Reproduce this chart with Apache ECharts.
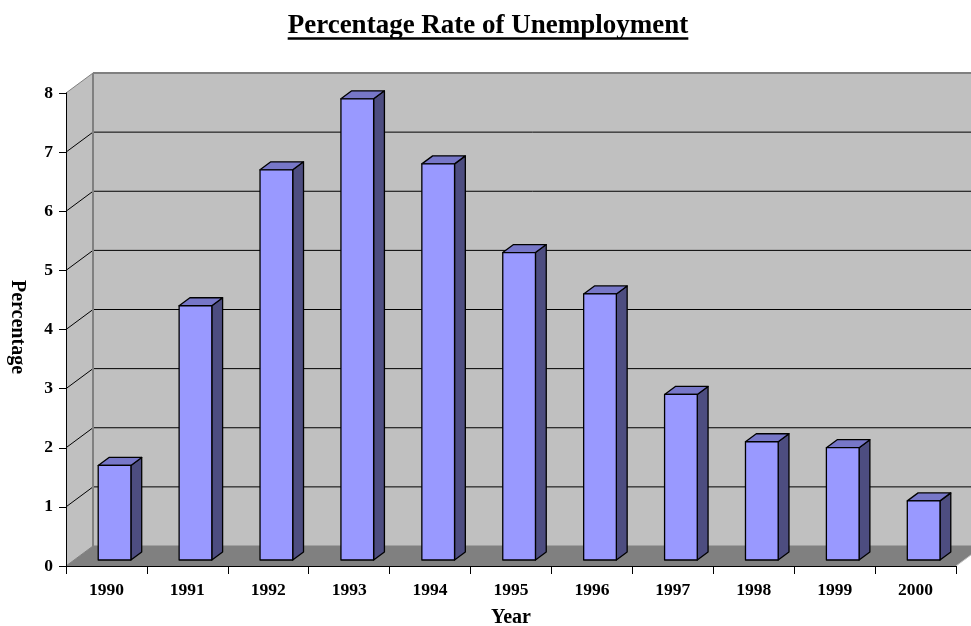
<!DOCTYPE html>
<html><head><meta charset="utf-8">
<script src="https://cdn.jsdelivr.net/npm/echarts@6/dist/echarts.min.js"></script>
<style>html,body{margin:0;padding:0;background:#fff}#c{width:971px;height:626px}</style>
</head><body><div id="c"></div>
<script>
const years = ['1990','1991','1992','1993','1994','1995','1996','1997','1998','1999','2000'];
const rates = [1.6, 4.3, 6.6, 7.8, 6.7, 5.2, 4.5, 2.8, 2.0, 1.9, 1.0];
const yTicks = [0, 1, 2, 3, 4, 5, 6, 7, 8];
const titleText = 'Percentage Rate of Unemployment';
const xName = 'Year';
const yName = 'Percentage';

const DX = 27, DY = -20;          // depth vector of the 3D box
const FONT = '"Liberation Serif","Times New Roman",serif';

function measure(txt, font) {
  const c = document.createElement('canvas').getContext('2d');
  c.font = font; return c.measureText(txt).width;
}
const titleFont = 'bold 27px ' + FONT;
const tw = measure(titleText, titleFont);
const tcx = 488;

const chart = echarts.init(document.getElementById('c'), null, {renderer: 'canvas'});

function wallsRender(params, api) {
  const cs = params.coordSys;
  const x = cs.x, y = cs.y, w = cs.width, h = cs.height;
  const children = [];
  children.push({type: 'polygon', shape: {points: [[x+DX, y+DY], [x+w+DX+40, y+DY], [x+w+DX+40, y+h+DY], [x+DX, y+h+DY]]},
    style: {fill: '#C0C0C0'}});
  children.push({type: 'polygon', shape: {points: [[x, y], [x+DX, y+DY], [x+DX, y+h+DY], [x, y+h]]},
    style: {fill: '#C0C0C0'}});
  children.push({type: 'polygon', shape: {points: [[x, y+h], [x+DX, y+h+DY], [x+w+DX, y+h+DY], [x+w, y+h]]},
    style: {fill: '#808080'}});
  yTicks.forEach(function (v) {
    const yy = api.coord([0, v])[1];
    const col = (v === yTicks[yTicks.length-1] || v === 0) ? '#808080' : '#000';
    const lw = (v === yTicks[yTicks.length-1]) ? 2 : 1;
    children.push({type: 'line', shape: {x1: x, y1: yy, x2: x+DX, y2: yy+DY}, style: {stroke: col, lineWidth: 1}});
    children.push({type: 'line', shape: {x1: x+DX, y1: yy+DY, x2: x+w+DX+40, y2: yy+DY}, style: {stroke: col, lineWidth: lw}});
  });
  children.push({type: 'line', shape: {x1: x+DX, y1: y+DY, x2: x+DX, y2: y+h+DY}, style: {stroke: '#808080', lineWidth: 2}});
  children.push({type: 'line', shape: {x1: x+w, y1: y+h, x2: x+w+DX, y2: y+h+DY}, style: {stroke: '#C0C0C0', lineWidth: 1}});
  return {type: 'group', children: children};
}

function barRender(params, api) {
  const i = api.value(0), v = api.value(1);
  const base = api.coord([i, 0]);
  const top = api.coord([i, v]);
  const cw = api.size([1, 0])[0];
  const bw = cw * 0.404;
  const f = 0.3, bd = 0.4;
  const x0 = base[0] - bw/2 + f*DX;
  const yb = base[1] + f*DY, yt = top[1] + f*DY;
  const ddx = bd*DX, ddy = bd*DY;
  const stroke = {stroke: '#000', lineWidth: 1.3, lineJoin: 'round'};
  return {type: 'group', children: [
    {type: 'polygon', shape: {points: [[x0+bw, yb], [x0+bw+ddx, yb+ddy], [x0+bw+ddx, yt+ddy], [x0+bw, yt]]},
      style: Object.assign({fill: '#4D4D80'}, stroke)},
    {type: 'polygon', shape: {points: [[x0, yt], [x0+bw, yt], [x0+bw+ddx, yt+ddy], [x0+ddx, yt+ddy]]},
      style: Object.assign({fill: '#7777C8'}, stroke)},
    {type: 'rect', shape: {x: x0, y: yt, width: bw, height: yb - yt},
      style: Object.assign({fill: '#9999FF'}, stroke)}
  ]};
}

chart.setOption({
  animation: false,
  backgroundColor: '#fff',
  grid: {left: 66, right: 15, top: 93, bottom: 60, containLabel: false},
  xAxis: {
    type: 'category', data: years, boundaryGap: true, z: 10,
    axisLine: {show: true, lineStyle: {color: '#000', width: 1}},
    axisTick: {show: true, length: 8, lineStyle: {color: '#000'}},
    axisLabel: {color: '#000', fontWeight: 'bold', fontSize: 17.5, fontFamily: FONT, margin: 15},
    splitLine: {show: false}
  },
  yAxis: {
    type: 'value', min: 0, max: 8, interval: 1, z: 10,
    axisLine: {show: true, lineStyle: {color: '#000', width: 1}},
    axisTick: {show: true, length: 7, lineStyle: {color: '#000'}},
    axisLabel: {color: '#000', fontWeight: 'bold', fontSize: 17.5, fontFamily: FONT, margin: 13},
    splitLine: {show: false}
  },
  series: [
    {type: 'custom', name: 'walls', data: [[0, 0]], renderItem: wallsRender, z: 1, silent: true, clip: false},
    {type: 'custom', name: 'Unemployment', data: rates.map(function (v, i) { return [i, v]; }),
      renderItem: barRender, z: 2, clip: false, encode: {x: 0, y: 1}}
  ],
  graphic: [
    {type: 'text', x: tcx, y: 26, style: {text: titleText, font: titleFont, fill: '#000', textAlign: 'center', textVerticalAlign: 'middle'}},
    {type: 'line', shape: {x1: tcx - tw/2, y1: 38.5, x2: tcx + tw/2, y2: 38.5}, style: {stroke: '#000', lineWidth: 2.5}},
    {type: 'text', x: 17, y: 327, rotation: -Math.PI/2, style: {text: yName, font: 'bold 20px ' + FONT, fill: '#000', textAlign: 'center', textVerticalAlign: 'middle'}},
    {type: 'text', x: 511, y: 618, style: {text: xName, font: 'bold 20px ' + FONT, fill: '#000', textAlign: 'center', textVerticalAlign: 'middle'}}
  ]
});
</script></body></html>
